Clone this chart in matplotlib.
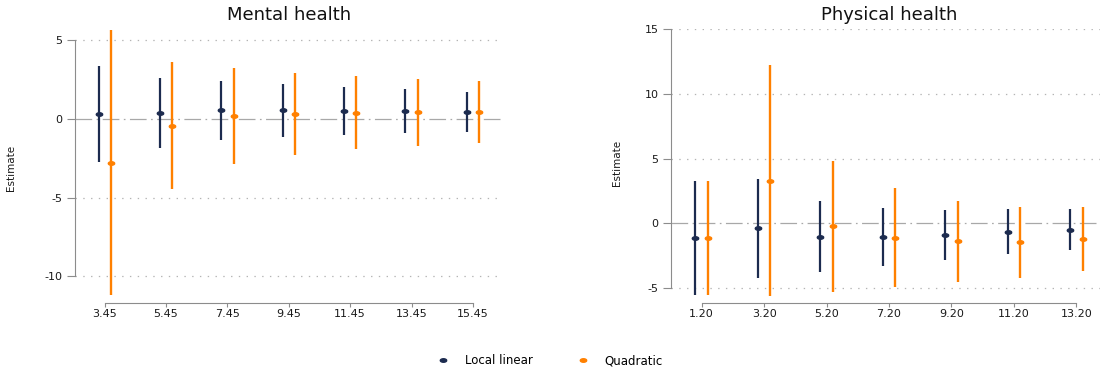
import numpy as np
import matplotlib
matplotlib.use("Agg")
import matplotlib.pyplot as plt
from matplotlib.lines import Line2D

plt.rcParams['font.family'] = ['DejaVu Sans']
plt.rcParams['axes.unicode_minus'] = False
plt.rcParams['lines.scale_dashes'] = False

# ---------------- data ----------------
mental_x = [3.45, 5.45, 7.45, 9.45, 11.45, 13.45, 15.45]
mental_ll_est = [0.32, 0.40, 0.57, 0.57, 0.51, 0.51, 0.44]
mental_ll_lo = [-2.76, -1.84, -1.33, -1.12, -0.99, -0.89, -0.84]
mental_ll_hi = [3.38, 2.62, 2.41, 2.19, 2.00, 1.88, 1.71]
mental_q_est = [-2.78, -0.42, 0.17, 0.34, 0.40, 0.42, 0.44]
mental_q_lo = [-11.2, -4.43, -2.89, -2.26, -1.90, -1.69, -1.50]
mental_q_hi = [5.68, 3.59, 3.23, 2.91, 2.70, 2.51, 2.41]
mental_xticklabels = ["3.45", "5.45", "7.45", "9.45", "11.45", "13.45", "15.45"]
mental_yticks = [-10, -5, 0, 5]

physical_x = [1.20, 3.20, 5.20, 7.20, 9.20, 11.20, 13.20]
physical_ll_est = [-1.10, -0.36, -1.03, -1.03, -0.87, -0.64, -0.49]
physical_ll_lo = [-5.52, -4.21, -3.75, -3.26, -2.83, -2.36, -2.05]
physical_ll_hi = [3.31, 3.47, 1.70, 1.18, 1.05, 1.13, 1.08]
physical_q_est = [-1.10, 3.31, -0.23, -1.10, -1.39, -1.46, -1.18]
physical_q_lo = [-5.52, -5.57, -5.29, -4.91, -4.52, -4.19, -3.67]
physical_q_hi = [3.31, 12.2, 4.85, 2.70, 1.75, 1.28, 1.26]
physical_xticklabels = ["1.20", "3.20", "5.20", "7.20", "9.20", "11.20", "13.20"]
physical_yticks = [-5, 0, 5, 10, 15]

series_labels = ["Local linear", "Quadratic"]
titles = ["Mental health", "Physical health"]
ylabel = "Estimate"

# ---------------- style ----------------
NAVY = '#1c2b4f'
ORANGE = '#ff8000'
AXIS_GRAY = '#8c8c8c'
t = np.linspace(0, 2 * np.pi, 40)
ELLIPSE = list(zip(np.cos(t), 0.55 * np.sin(t)))

fig = plt.figure(figsize=(11, 3.74), dpi=100)
ax1 = fig.add_axes([0.0678, 0.2086, 0.3895, 0.714])
ax2 = fig.add_axes([0.610, 0.2086, 0.3964, 0.714])


def draw(ax, x, ll_est, ll_lo, ll_hi, q_est, q_lo, q_hi, xtl, yticks, ylim, title, ylab_x, ylab_y):
    x = np.asarray(x)
    xl = x - 0.2
    xq = x + 0.2
    ax.axhline(0, color='#a8a8a8', lw=0.9, ls=(0, (12, 3.2, 1.2, 3.2)), zorder=1)
    ax.vlines(xl, ll_lo, ll_hi, color=NAVY, lw=1.6, zorder=3)
    ax.plot(xl, ll_est, ls='none', marker=ELLIPSE, ms=4.6, color=NAVY, zorder=4)
    ax.vlines(xq, q_lo, q_hi, color=ORANGE, lw=1.7, zorder=3)
    ax.plot(xq, q_est, ls='none', marker=ELLIPSE, ms=4.6, color=ORANGE, zorder=4)

    ax.set_xlim(x[0] - 0.98, x[-1] + 0.98)
    ax.set_ylim(*ylim)
    ax.set_xticks(x)
    ax.set_xticklabels(xtl)
    ax.set_yticks(yticks)
    ax.set_yticklabels([str(v) for v in yticks])

    ax.yaxis.grid(True, color='#b4b4b4', lw=0.9, ls=(0, (1.0, 4.6)))
    ax.xaxis.grid(False)
    for val, gl in zip(yticks, ax.get_ygridlines()):
        if val == 0:
            gl.set_visible(False)
    ax.set_axisbelow(True)

    for s in ['top', 'right']:
        ax.spines[s].set_visible(False)
    ax.spines['left'].set_bounds(min(yticks), max(yticks))
    ax.spines['bottom'].set_bounds(x[0], x[-1])
    ax.spines['bottom'].set_position(('outward', 5))
    for s in ['left', 'bottom']:
        ax.spines[s].set_color(AXIS_GRAY)
        ax.spines[s].set_linewidth(0.8)
    ax.tick_params(axis='y', length=5.5, width=0.8, color=AXIS_GRAY, pad=3.5,
                   labelsize=8, labelcolor='#1a1a1a')
    ax.tick_params(axis='x', length=3, width=0.8, color=AXIS_GRAY, pad=1.5,
                   labelsize=8, labelcolor='#1a1a1a')
    ax.set_facecolor('none')
    ax.set_title(title, fontsize=13, color='#111111', pad=6.5)
    ax.set_ylabel(ylab, fontsize=7.5, color='#1a1a1a')
    ax.yaxis.set_label_coords(ylab_x, ylab_y)


ylab = ylabel
draw(ax1, mental_x, mental_ll_est, mental_ll_lo, mental_ll_hi,
     mental_q_est, mental_q_lo, mental_q_hi, mental_xticklabels, mental_yticks,
     (-11.25, 5.72), titles[0], -0.137, 0.48)
draw(ax2, physical_x, physical_ll_est, physical_ll_lo, physical_ll_hi,
     physical_q_est, physical_q_lo, physical_q_hi, physical_xticklabels, physical_yticks,
     (-5.6, 15.02), titles[1], -0.112, 0.50)

handles = [Line2D([], [], ls='none', marker=ELLIPSE, ms=4.6, color=NAVY),
           Line2D([], [], ls='none', marker=ELLIPSE, ms=4.6, color=ORANGE)]
fig.legend(handles, series_labels, loc='center', bbox_to_anchor=(0.5, 1 - 361 / 374),
           ncol=2, frameon=False, fontsize=8.5, handlelength=1.0, handletextpad=1.36,
           columnspacing=3.7)

fig.savefig('out.png', dpi=100)
